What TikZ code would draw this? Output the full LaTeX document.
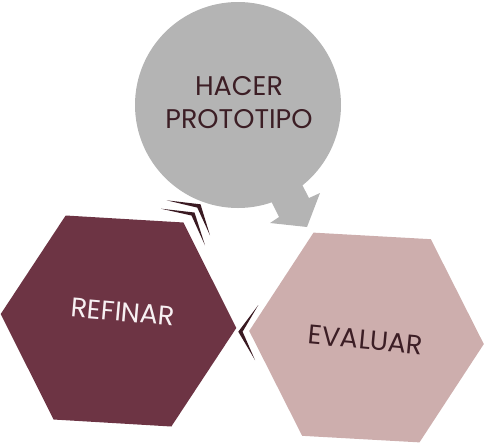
\documentclass[tikz,border=0pt]{standalone}
\usepackage{fontspec}
\setmainfont{Poppins}
\definecolor{maroon}{HTML}{6D3444}
\definecolor{rosepink}{HTML}{CDAEAD}
\definecolor{greyc}{HTML}{B4B4B4}
\definecolor{darktext}{HTML}{3C1E25}
\definecolor{chev}{HTML}{3A1A22}
\definecolor{lighttext}{HTML}{F7F0F2}
\tikzset{
  label27/.style={font=\fontsize{27}{33}\selectfont, inner sep=0pt, align=center},
  chevron/.style={fill=chev}
}
\begin{document}
\begin{tikzpicture}[x=1pt,y=-1pt]
\useasboundingbox (0,0) rectangle (484,445);
% grey circle with pointer
\fill[greyc] (238,105) circle (103);
\fill[greyc] (295,171) -- (309,198) -- (320,193) -- (307,227) -- (270,223) -- (279,217) -- (261,181) -- cycle;
% REFINAR hexagon
\begin{scope}[shift={(118.5,321)}]
\fill[maroon] (3.4:118) -- (63.4:118) -- (123.4:118) -- (183.4:118) -- (243.4:118) -- (303.4:118) -- cycle;
\end{scope}
% EVALUAR hexagon
\begin{scope}[shift={(366.5,337.5)}]
\fill[rosepink] (3.2:117.5) -- (63.2:117.5) -- (123.2:117.5) -- (183.2:117.5) -- (243.2:117.5) -- (303.2:117.5) -- cycle;
\end{scope}
% chevrons
\fill[chevron] (166.7,200.3) -- (200.5,204.3) -- (210,235.3) -- (197.3,207.6) -- cycle;
\fill[chevron] (161,208.7) -- (194.5,212.5) -- (205,245.3) -- (191.5,215.5) -- cycle;
\fill[chevron] (258.3,305) -- (238.3,331.7) -- (255,360) -- (242.6,331.7) -- cycle;
% labels
\node[label27, text=darktext] (proto) at (239,103) {HACER\\PROTOTIPO};
\node[label27, text=lighttext, rotate=-5] (refinar) at (123,312) {REFINAR};
\node[label27, text=darktext, rotate=-5.3] (evaluar) at (366,340) {EVALUAR};
\end{tikzpicture}
\end{document}
